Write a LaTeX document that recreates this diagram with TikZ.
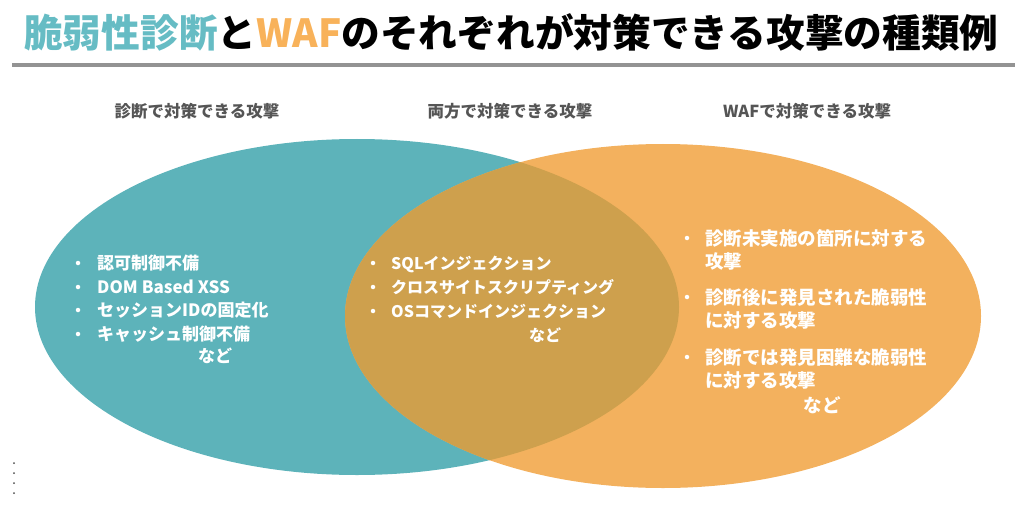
\documentclass[tikz,border=0pt]{standalone}
\usepackage{fontspec}
\setmainfont{Noto Sans CJK JP}
\definecolor{vteal}{HTML}{5DB3BA}
\definecolor{vorange}{HTML}{F3B15E}
\definecolor{vboth}{HTML}{CEA04D}
\definecolor{tteal}{HTML}{66BCC4}
\definecolor{torange}{HTML}{F8B25A}
\definecolor{subgray}{HTML}{555555}
\begin{document}
\begin{tikzpicture}[x=1pt,y=-1pt,
    subtitle/.style={anchor=base,inner sep=0,text=subgray,font=\bfseries\fontsize{16.5}{16.5}\selectfont},
    item/.style={anchor=base west,inner sep=0,text=white,font=\bfseries\fontsize{#1}{#1}\selectfont},
    item/.default=17,
    etc/.style={anchor=base,inner sep=0,text=white,font=\bfseries\fontsize{#1}{#1}\selectfont},
    etc/.default=17,
    bul/.style={circle,fill=white,inner sep=0,minimum size=4.5pt}]
      \useasboundingbox (0,0) rectangle (1024,513);

      % title and rule
      \node [anchor=base west,inner sep=0,font=\bfseries\fontsize{38.7}{39}\selectfont] (title) at (24,48)
        {\textcolor{tteal}{脆弱性診断}と\textcolor{torange}{WAF}のそれぞれが対策できる攻撃の種類例};
      \fill [gray!85] (12,63) rectangle (1015,67);

      % the two sets
      \fill [vteal] (357,307) ellipse [x radius=322pt,y radius=168pt];
      \fill [vorange] (663,316) ellipse [x radius=318pt,y radius=172pt];
      \begin{scope}
        \clip (357,307) ellipse [x radius=322pt,y radius=168pt];
        \fill [vboth] (663,316) ellipse [x radius=318pt,y radius=172pt];
      \end{scope}

      \node [subtitle] (diag) at (197,118) {診断で対策できる攻撃};
      \node [subtitle] (both) at (510,118) {両方で対策できる攻撃};
      \node [subtitle] (waf) at (807,118) {WAFで対策できる攻撃};

      % diagnosis only
      \node [bul] at (78,263) {};
      \node [item] (d1) at (97,269.5) {認可制御不備};
      \node [bul] at (78,287) {};
      \node [item] (d2) at (97,293.5) {DOM Based XSS};
      \node [bul] at (78,310) {};
      \node [item] (d3) at (97,316.5) {セッションIDの固定化};
      \node [bul] at (78,334) {};
      \node [item] (d4) at (97,340.5) {キャッシュ制御不備};
      \node [etc] (d5) at (215,362.5) {など};

      % both
      \node [bul] at (373,263) {};
      \node [item=16] (b1) at (391,269) {SQLインジェクション};
      \node [bul] at (373,287) {};
      \node [item=16] (b2) at (391,293) {クロスサイトスクリプティング};
      \node [bul] at (373,311) {};
      \node [item=16] (b3) at (391,317) {OSコマンドインジェクション};
      \node [etc=16] (b4) at (545,341) {など};

      % WAF only
      \node [bul] at (687,238) {};
      \node [item=18.5] (w1) at (705,245) {診断未実施の箇所に対する};
      \node [item=18.5] (w2) at (705,268) {攻撃};
      \node [bul] at (687,297) {};
      \node [item=18.5] (w3) at (705,304) {診断後に発見された脆弱性};
      \node [item=18.5] (w4) at (705,327) {に対する攻撃};
      \node [bul] at (687,357) {};
      \node [item=18.5] (w5) at (705,364) {診断では発見困難な脆弱性};
      \node [item=18.5] (w6) at (705,387) {に対する攻撃};
      \node [etc=18.5] (w7) at (822,412) {など};

      % dots at the lower left
      \fill [black!70] (14,463) circle (1pt) (14,473) circle (1pt)
        (14,483) circle (1pt) (14,493) circle (1pt);
    \end{tikzpicture}
\end{document}
